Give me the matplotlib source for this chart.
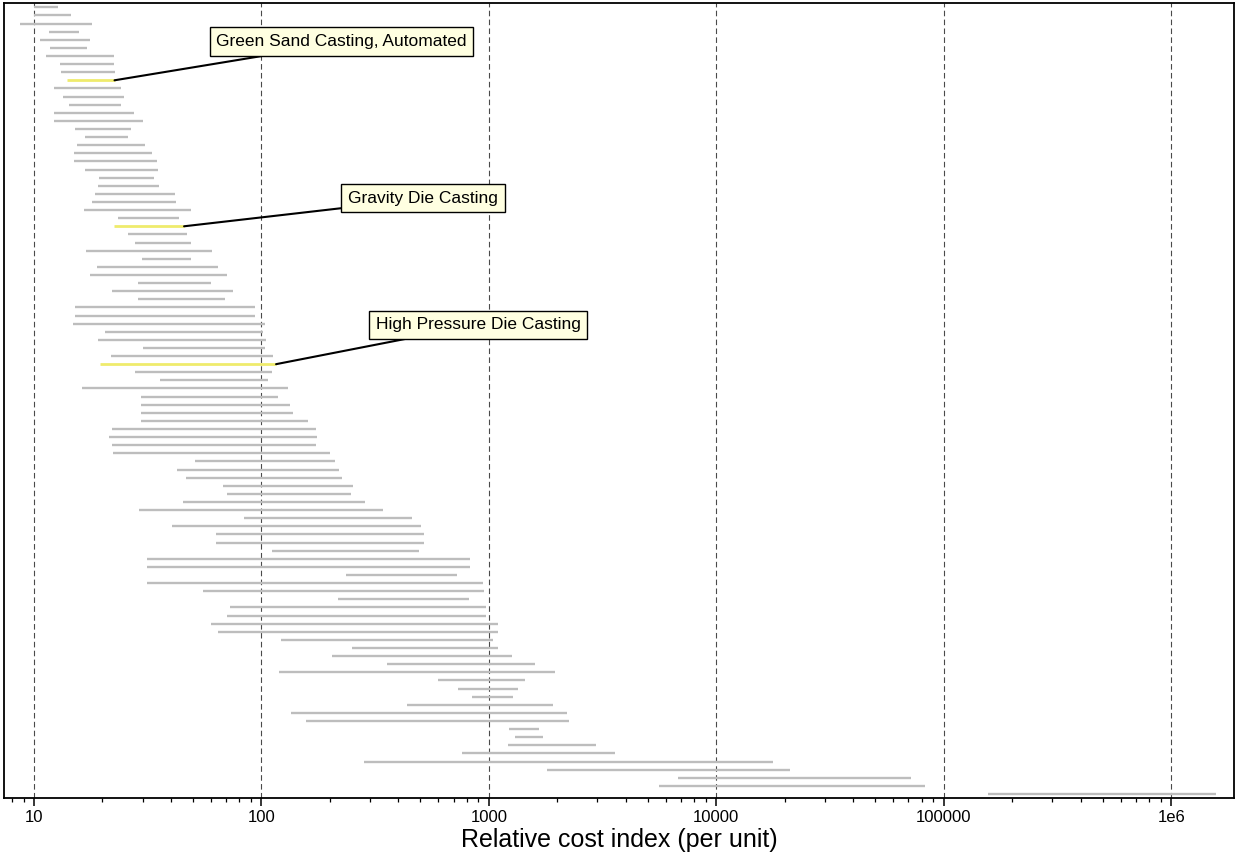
import matplotlib
matplotlib.use("Agg")
import matplotlib.pyplot as plt
from matplotlib.ticker import LogLocator, NullFormatter

# ---- data: cost index ranges (per unit), top row first ----
low = [10.0, 10.0, 8.65, 11.6, 10.6, 11.8, 11.3, 13.0, 13.1, 14.0,
       12.2, 13.4, 14.2, 12.2, 12.2, 15.2, 16.8, 15.5, 15.0, 15.0,
       16.8, 19.4, 19.1, 18.6, 18.0, 16.6, 23.4, 22.4, 25.9, 27.9,
       16.9, 29.8, 18.9, 17.7, 28.8, 22.0, 28.6, 15.1, 15.2, 14.8,
       20.5, 19.1, 30.0, 21.7, 19.6, 27.9, 35.9, 16.3, 29.6, 29.6,
       29.6, 29.6, 22.0, 21.3, 22.0, 22.2, 50.9, 42.5, 46.8, 67.6,
       70.8, 45.4, 29.0, 83.8, 40.4, 63.2, 63.2, 111, 31.5, 31.5,
       236, 31.3, 55.5, 218, 73.1, 70.5, 60.1, 64.4, 122, 249,
       204, 358, 119, 597, 729, 845, 436, 135, 157, 1227,
       1297, 1211, 759, 282, 1799, 6761, 5610, 156700]
high = [12.8, 14.5, 17.9, 15.7, 17.6, 17.1, 22.4, 22.4, 22.6, 22.6,
        24.2, 24.8, 24.1, 27.6, 30.0, 26.8, 25.9, 30.8, 33.0, 34.7,
        35.0, 33.6, 35.6, 41.8, 42.2, 49.1, 43.6, 45.7, 47.3, 48.9,
        60.4, 48.9, 64.6, 70.3, 59.8, 75.2, 69.2, 93.5, 93.5, 104,
        102, 105, 104, 112, 116, 111, 107, 131, 118, 134,
        137, 160, 173, 175, 173, 200, 210, 220, 226, 252,
        248, 284, 344, 457, 504, 521, 521, 494, 824, 830,
        724, 938, 955, 817, 968, 968, 1094, 1094, 1038, 1094,
        1259, 1592, 1950, 1442, 1349, 1271, 1910, 2213, 2244, 1660,
        1738, 2972, 3581, 17820, 21090, 71610, 82990, 1578000]

highlight_rows = [9, 27, 44]
highlight_names = ["Green Sand Casting, Automated",
                   "Gravity Die Casting",
                   "High Pressure Die Casting"]

tick_values = [10, 100, 1000, 10000, 100000, 1000000]
tick_labels = ["10", "100", "1000", "10000", "100000", "1e6"]
x_label = "Relative cost index (per unit)"

# ---- figure ----
plt.rcParams['font.family'] = ['Liberation Sans', 'DejaVu Sans']
W, H = 1236, 861
fig = plt.figure(figsize=(W / 100, H / 100), dpi=100)
ax = fig.add_axes([4 / W, (H - 798) / H, (1234 - 4) / W, (798 - 3) / H])

n = len(low)
ax.set_xscale('log')
ax.set_xlim(7.38, 1.89e6)
ax.set_ylim(n - 1 + 0.49, -0.53)

gray = '#bdbdbd'
yellow = '#efeb6c'
for i in range(n):
    hl = i in highlight_rows
    ax.hlines(i, low[i], high[i], colors=yellow if hl else gray,
              lw=2.0 if hl else 1.7, zorder=3 if hl else 2)

# grid
for v in tick_values:
    ax.axvline(v, color='#4a4a4a', lw=0.8, linestyle=(0, (5, 3)), zorder=1)

# annotations: label boxes (figure pixels) and leader-line attach points on the boxes
box_centers = [(341.5, H - 41.5), (423, H - 198), (478, H - 325)]
leader_ends = [(262, H - 56), (343, H - 208), (405, H - 339)]
for k, r in enumerate(highlight_rows):
    ax.annotate('', xy=(high[r], r), xycoords='data',
                xytext=leader_ends[k], textcoords='figure pixels', zorder=4,
                arrowprops=dict(arrowstyle='-', color='black', lw=1.5,
                                shrinkA=0, shrinkB=0))
    ax.annotate(highlight_names[k], xy=box_centers[k], xycoords='figure pixels',
                ha='center', va='center', fontsize=12.5, zorder=5,
                bbox=dict(boxstyle='square,pad=0.38', fc='#ffffe1', ec='black', lw=1.0))

# axes styling
ax.set_yticks([])
ax.set_xticks(tick_values)
ax.set_xticklabels(tick_labels, fontsize=12)
ax.xaxis.set_minor_locator(LogLocator(base=10, subs=range(2, 10), numticks=20))
ax.xaxis.set_minor_formatter(NullFormatter())
ax.tick_params(axis='x', which='major', direction='out', length=5.5, width=1.1, pad=3.5, colors='black')
ax.tick_params(axis='x', which='minor', direction='out', length=3, width=0.9)
for s in ax.spines.values():
    s.set_linewidth(1.3)
    s.set_color('black')
ax.set_xlabel(x_label, fontsize=18, labelpad=2)

fig.savefig('out.png', dpi=100)
